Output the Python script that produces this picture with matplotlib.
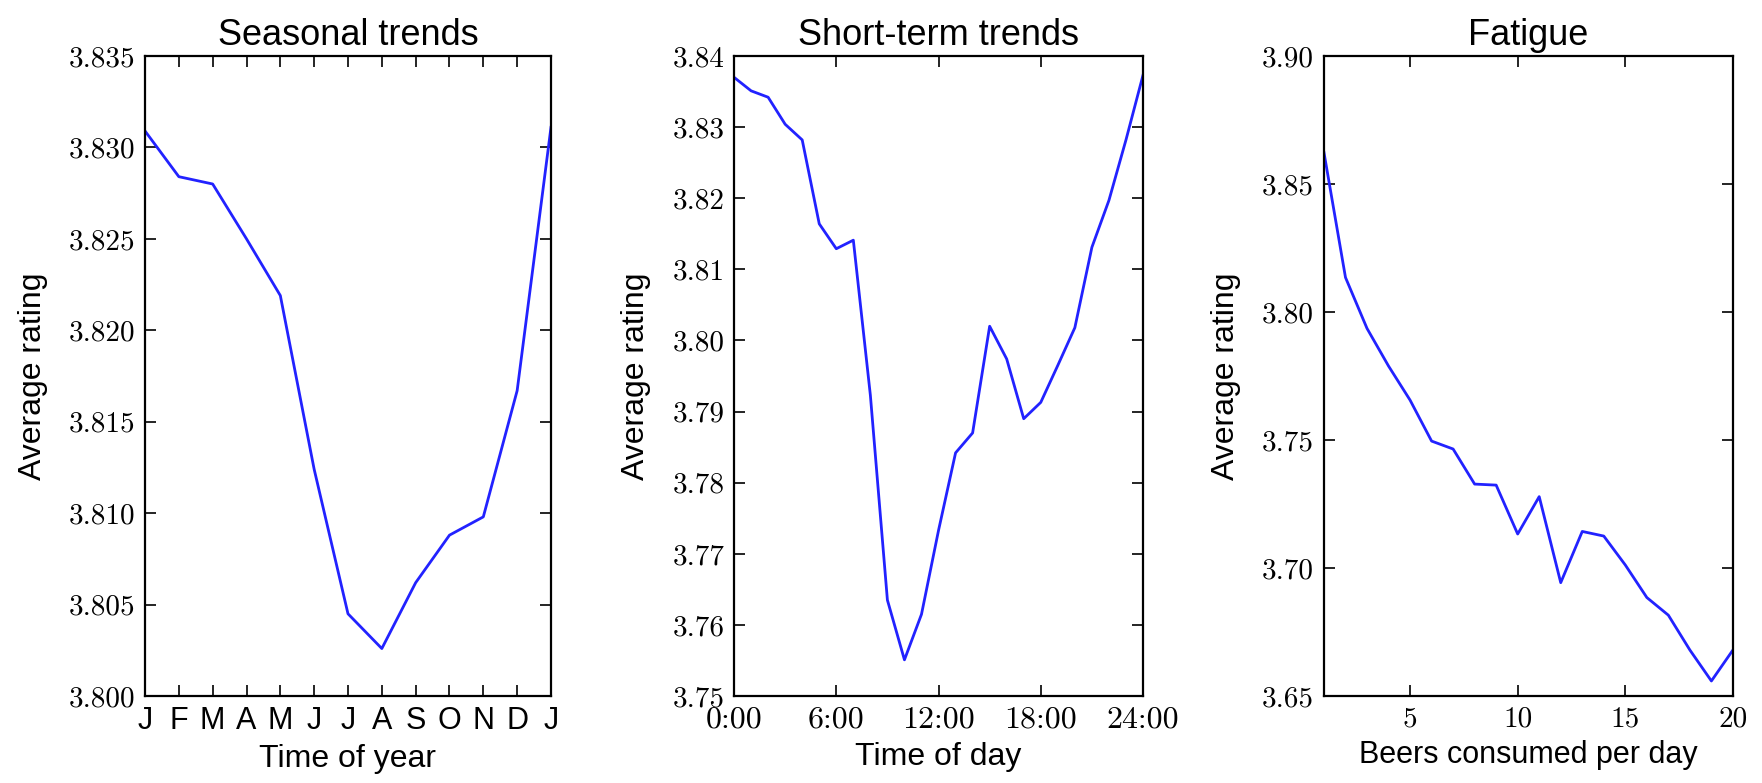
import matplotlib
matplotlib.use("Agg")
import matplotlib.pyplot as plt
from matplotlib.ticker import FuncFormatter

plt.rcParams["font.family"] = ["Liberation Sans", "DejaVu Sans"]
plt.rcParams["axes.formatter.use_mathtext"] = True

# Seasonal trends: Jan .. Jan
month_labels = ["J", "F", "M", "A", "M", "J", "J", "A", "S", "O", "N", "D", "J"]
month_pos = list(range(13))
season_rating = [3.8309, 3.8284, 3.8280, 3.8250, 3.8219, 3.8124, 3.8045, 3.8026,
                 3.8062, 3.8088, 3.8098, 3.8167, 3.8311]

# Short-term trends: hour of day 0..24
hours = list(range(25))
hour_rating = [3.8370, 3.8351, 3.8342, 3.8304, 3.8282, 3.8164, 3.8129, 3.8141,
               3.7923, 3.7635, 3.7551, 3.7615, 3.7733, 3.7842, 3.7870, 3.8020,
               3.7974, 3.7890, 3.7913, 3.7965, 3.8018, 3.8131, 3.8197, 3.8282,
               3.8373]
hour_ticks = [0, 6, 12, 18, 24]
hour_labels = ["0:00", "6:00", "12:00", "18:00", "24:00"]

# Fatigue: beers per day 1..20
beers = list(range(1, 21))
beer_rating = [3.8623, 3.8135, 3.7936, 3.7789, 3.7656, 3.7496, 3.7465, 3.7328,
               3.7324, 3.7133, 3.7279, 3.6943, 3.7143, 3.7125, 3.7012, 3.6885,
               3.6816, 3.6680, 3.6559, 3.6680]

fig = plt.figure(figsize=(17.62, 7.83), dpi=100)
bottom, top = 0.111, 0.9285
ax1 = fig.add_axes([0.0823, bottom, 0.2304, top - bottom])
ax2 = fig.add_axes([0.4166, bottom, 0.2321, top - bottom])
ax3 = fig.add_axes([0.7514, bottom, 0.2321, top - bottom])

line_color = "#2222ff"
serif = "cmr10"


def fmt(decimals):
    return FuncFormatter(lambda v, p: "%.*f" % (decimals, v))


for ax in (ax1, ax2, ax3):
    ax.tick_params(direction="in", top=True, right=True, length=8, width=1.2,
                   labelsize=21, pad=7)
    for s in ax.spines.values():
        s.set_linewidth(1.6)
    ax.set_ylabel("Average rating", fontsize=23, labelpad=15)

ax1.plot(month_pos, season_rating, color=line_color, lw=2)
ax1.set_xlim(0, 12)
ax1.set_ylim(3.800, 3.835)
ax1.set_xticks(month_pos)
ax1.set_xticklabels(month_labels, fontsize=22)
ax1.set_yticks([3.800, 3.805, 3.810, 3.815, 3.820, 3.825, 3.830, 3.835])
ax1.yaxis.set_major_formatter(fmt(3))
ax1.set_xlabel("Time of year", fontsize=23, labelpad=6)
ax1.set_title("Seasonal trends", fontsize=26, pad=8)

ax2.plot(hours, hour_rating, color=line_color, lw=2)
ax2.set_xlim(0, 24)
ax2.set_ylim(3.75, 3.84)
ax2.set_xticks(hour_ticks)
ax2.set_xticklabels(hour_labels)
ax2.set_yticks([3.75, 3.76, 3.77, 3.78, 3.79, 3.80, 3.81, 3.82, 3.83, 3.84])
ax2.yaxis.set_major_formatter(fmt(2))
ax2.set_xlabel("Time of day", fontsize=23, labelpad=6)
ax2.set_title("Short-term trends", fontsize=26, pad=8)

ax3.plot(beers, beer_rating, color=line_color, lw=2)
ax3.set_xlim(1, 20)
ax3.set_ylim(3.65, 3.90)
ax3.set_xticks([5, 10, 15, 20])
ax3.xaxis.set_major_formatter(FuncFormatter(lambda v, p: "%d" % v))
ax3.set_yticks([3.65, 3.70, 3.75, 3.80, 3.85, 3.90])
ax3.yaxis.set_major_formatter(fmt(2))
ax3.set_xlabel("Beers consumed per day", fontsize=22, labelpad=6)
ax3.set_title("Fatigue", fontsize=26, pad=8)

# serif (Computer Modern) numeric tick labels, sans month letters
for ax in (ax1, ax2, ax3):
    for lab in ax.get_yticklabels():
        lab.set_fontfamily(serif)
for ax in (ax2, ax3):
    for lab in ax.get_xticklabels():
        lab.set_fontfamily(serif)
        lab.set_fontsize(23 if ax is ax2 else 21)

fig.savefig("out.png", dpi=100)
